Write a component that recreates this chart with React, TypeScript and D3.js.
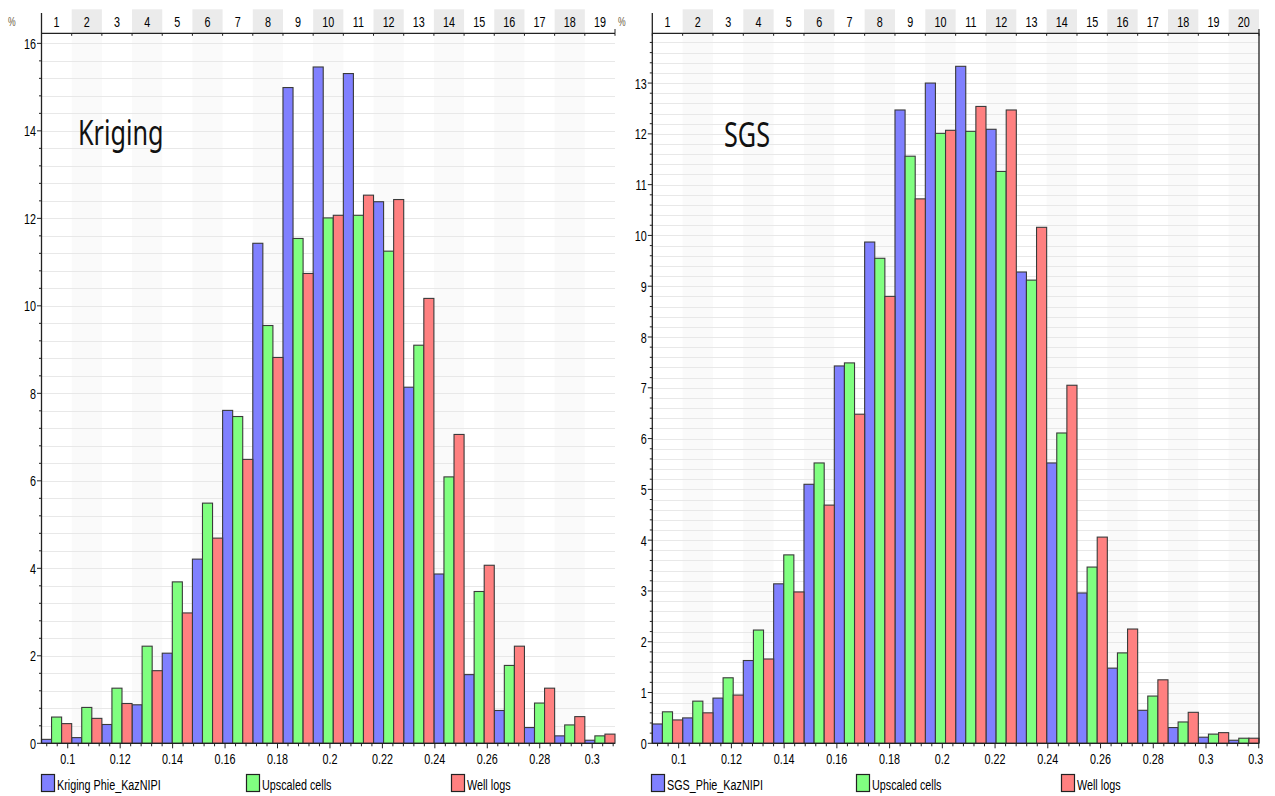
import React, { useEffect, useRef } from "react";
import * as d3 from "d3";

// porosity histograms, % of samples per bin
const krigingBlue = [0.09, 0.13, 0.43, 0.88, 2.06, 4.21, 7.61, 11.43, 14.99, 15.46, 15.31, 12.38, 8.14, 3.87, 1.57, 0.75, 0.36, 0.17, 0.07];
const krigingGreen = [0.6, 0.82, 1.26, 2.22, 3.69, 5.49, 7.47, 9.55, 11.54, 12.01, 12.07, 11.25, 9.1, 6.09, 3.47, 1.78, 0.92, 0.42, 0.17];
const krigingRed = [0.45, 0.57, 0.91, 1.66, 2.98, 4.69, 6.49, 8.82, 10.74, 12.07, 12.53, 12.43, 10.17, 7.06, 4.07, 2.22, 1.26, 0.61, 0.21];

const sgsBlue = [0.38, 0.5, 0.89, 1.63, 3.14, 5.1, 7.43, 9.87, 12.47, 13.0, 13.33, 12.09, 9.28, 5.52, 2.96, 1.48, 0.65, 0.31, 0.12, 0.06];
const sgsGreen = [0.62, 0.83, 1.29, 2.23, 3.71, 5.52, 7.49, 9.55, 11.56, 12.01, 12.05, 11.26, 9.12, 6.11, 3.47, 1.78, 0.93, 0.42, 0.18, 0.1];
const sgsRed = [0.46, 0.6, 0.95, 1.66, 2.98, 4.69, 6.48, 8.8, 10.72, 12.07, 12.54, 12.47, 10.16, 7.05, 4.06, 2.25, 1.25, 0.61, 0.21, 0.1];

const krigingNames = ["Kriging Phie_KazNIPI", "Upscaled cells", "Well logs"];
const sgsNames = ["SGS_Phie_KazNIPI", "Upscaled cells", "Well logs"];
const seriesColors = ["#8080ff", "#80ff80", "#ff8080"];

const krigingXRange = [0.09, 0.3087];
const sgsXRange = [0.09, 0.3201];

const SX = 0.72; // horizontal squash of all text
const TICK_FONT = "'Liberation Sans', Arial, sans-serif";

interface PanelCfg {
  x0: number;
  x1: number;
  xRange: number[];
  yMax: number;
  yMinor: number;
  yMajorEvery: number;
  title: string;
  titleX: number;
  titleY: number;
  names: string[];
  values: number[][];
  legendX: number;
  pctX: number;
  border: boolean;
  clipX: number;
}

const panels: PanelCfg[] = [
  {
    x0: 41.5, x1: 615, xRange: krigingXRange, yMax: 16.23, yMinor: 0.4, yMajorEvery: 5,
    title: "Kriging", titleX: 78, titleY: 145, names: krigingNames,
    values: [krigingBlue, krigingGreen, krigingRed], legendX: 41, pctX: 8, border: false, clipX: 640,
  },
  {
    x0: 652.3, x1: 1259, xRange: sgsXRange, yMax: 13.98, yMinor: 0.2, yMajorEvery: 5,
    title: "SGS", titleX: 724, titleY: 147, names: sgsNames,
    values: [sgsBlue, sgsGreen, sgsRed], legendX: 651, pctX: 618, border: true, clipX: 1263,
  },
];

const TOP = 33.3;
const BOTTOM = 743.3;
const HEAD_TOP = 9.3;

function addText(
  g: d3.Selection<any, unknown, null, undefined>,
  x: number, y: number, str: string,
  size: number, anchor = "start", family = TICK_FONT, fill = "#000"
) {
  g.append("g")
    .attr("transform", `translate(${x},${y}) scale(${SX},1)`)
    .append("text")
    .attr("text-anchor", anchor)
    .attr("font-size", size)
    .attr("font-family", family)
    .attr("fill", fill)
    .text(str);
}

export default function App() {
  const svgRef = useRef<SVGSVGElement | null>(null);

  useEffect(() => {
    if (!svgRef.current) return;
    const svg = d3.select(svgRef.current);
    svg.selectAll("*").remove();

    panels.forEach((p, pi) => {
      const nBins = p.values[0].length;
      const binW = (p.xRange[1] - p.xRange[0]) / nBins;
      const x = d3.scaleLinear().domain(p.xRange).range([p.x0, p.x1]);
      const y = d3.scaleLinear().domain([0, p.yMax]).range([BOTTOM, TOP]);
      const inner = d3.scaleBand<number>().domain([0, 1, 2]).range([0, 1]).padding(0);

      const clipId = `clip-${pi}`;
      svg.append("defs").append("clipPath").attr("id", clipId)
        .append("rect").attr("x", 0).attr("y", 0).attr("width", p.clipX).attr("height", 796);

      const g = svg.append("g").attr("clip-path", `url(#${clipId})`);
      const bins = d3.range(nBins);

      // alternating bands (header + plot)
      bins.filter((i) => i % 2 === 1).forEach((i) => {
        const bx = x(p.xRange[0] + i * binW);
        const bw = x(p.xRange[0] + (i + 1) * binW) - bx;
        g.append("rect").attr("x", bx).attr("y", TOP).attr("width", bw).attr("height", BOTTOM - TOP).attr("fill", "#fafafa");
        g.append("rect").attr("x", bx).attr("y", HEAD_TOP).attr("width", bw).attr("height", TOP - HEAD_TOP).attr("fill", "#ebebeb");
      });

      // horizontal grid
      const yTicks = d3.range(1, Math.floor(p.yMax / p.yMinor + 1e-6) + 1);
      yTicks.forEach((k) => {
        const yy = Math.round(y(k * p.yMinor)) + 0.5;
        g.append("line").attr("x1", p.x0).attr("x2", p.x1).attr("y1", yy).attr("y2", yy)
          .attr("stroke", "#e8e8e8").attr("stroke-width", 1);
      });

      // bars
      p.values.forEach((vals, si) => {
        g.append("g").selectAll("rect").data(vals).join("rect")
          .attr("x", (_, i) => x(p.xRange[0] + (i + inner(si)!) * binW))
          .attr("width", (_, i) => x(p.xRange[0] + (i + inner(si)! + inner.bandwidth()) * binW) - x(p.xRange[0] + (i + inner(si)!) * binW))
          .attr("y", (d) => y(d))
          .attr("height", (d) => BOTTOM - y(d))
          .attr("fill", seriesColors[si])
          .attr("stroke", "#3a3a3a")
          .attr("stroke-width", 1.1);
      });

      const axisColor = "#222";
      // y axis
      g.append("line").attr("x1", p.x0).attr("x2", p.x0).attr("y1", 13).attr("y2", BOTTOM).attr("stroke", axisColor).attr("stroke-width", 1.3);
      [0, ...yTicks].forEach((k) => {
        const yy = y(k * p.yMinor);
        const major = k % p.yMajorEvery === 0;
        g.append("line").attr("x1", p.x0 - (major ? 4.5 : 2.5)).attr("x2", p.x0).attr("y1", yy).attr("y2", yy)
          .attr("stroke", axisColor).attr("stroke-width", 1);
        if (major) {
          addText(g, p.x0 - 5.5, yy + 5.5, String(Math.round(k * p.yMinor)), 15, "end");
        }
      });

      // bottom axis
      g.append("line").attr("x1", p.x0).attr("x2", p.x1).attr("y1", BOTTOM).attr("y2", BOTTOM).attr("stroke", axisColor).attr("stroke-width", 1.3);
      const kStart = Math.ceil(p.xRange[0] / 0.004 - 1e-6);
      const kEnd = Math.floor(p.xRange[1] / 0.004 + 1e-6);
      d3.range(kStart, kEnd + 1).forEach((k) => {
        const xx = x(k * 0.004);
        const major = k % 5 === 0;
        g.append("line").attr("x1", xx).attr("x2", xx).attr("y1", BOTTOM).attr("y2", BOTTOM + (major ? 5 : 3))
          .attr("stroke", axisColor).attr("stroke-width", 1);
        if (major) addText(g, xx, 764, String(+(k * 0.004).toFixed(2)), 15, "middle");
      });

      // top axis with bin numbers
      g.append("line").attr("x1", p.x0).attr("x2", p.x1).attr("y1", TOP).attr("y2", TOP).attr("stroke", axisColor).attr("stroke-width", 1.3);
      d3.range(0, nBins + 1).forEach((i) => {
        const xx = x(p.xRange[0] + i * binW);
        g.append("line").attr("x1", xx).attr("x2", xx).attr("y1", TOP).attr("y2", TOP + 2.5)
          .attr("stroke", axisColor).attr("stroke-width", 1);
      });
      bins.forEach((i) => {
        addText(g, x(p.xRange[0] + (i + 0.5) * binW), 26.5, String(i + 1), 15, "middle");
      });
      if (p.border) {
        g.append("line").attr("x1", p.x1).attr("x2", p.x1).attr("y1", 29).attr("y2", BOTTOM).attr("stroke", axisColor).attr("stroke-width", 1.3);
      } else {
        g.append("line").attr("x1", p.x1).attr("x2", p.x1).attr("y1", 29).attr("y2", TOP).attr("stroke", axisColor).attr("stroke-width", 1);
      }

      addText(g, p.pctX, 26, "%", 12, "start", TICK_FONT, "#6a5a40");

      // title
      addText(g, p.titleX, p.titleY, p.title, 35, "start", "'Noto Sans', 'Open Sans', sans-serif", "#111");

      // legend
      p.names.forEach((name, si) => {
        const lx = p.legendX + si * 205;
        g.append("rect").attr("x", lx + 0.5).attr("y", 774.5).attr("width", 13).attr("height", 17)
          .attr("fill", seriesColors[si]).attr("stroke", "#222").attr("stroke-width", 1.2);
        addText(g, lx + 16, 790, name, 15, "start");
      });
    });
  }, []);

  return (
    <div style={{ position: "absolute", left: 0, top: 0, background: "#fff" }}>
      <svg ref={svgRef} width={1275} height={796} style={{ display: "block", background: "#fff" }} />
    </div>
  );
}
